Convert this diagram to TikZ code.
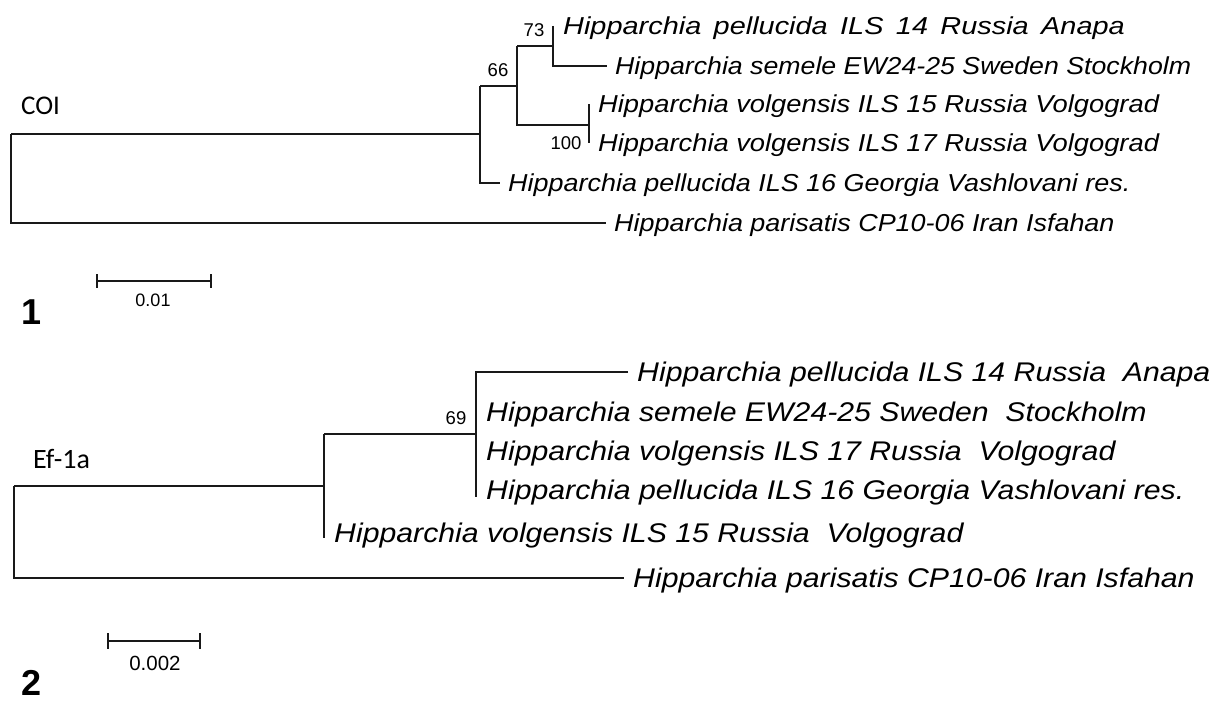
\documentclass[tikz,border=0pt]{standalone}
\usepackage{fontspec}
\usepackage{graphicx}
\setmainfont{Liberation Sans}
\newfontfamily\lblfont{Carlito}
\newcommand\taxA[2][1.1]{\scalebox{#1}[1]{\fontsize{24.5}{24.5}\selectfont\itshape #2}}
\newcommand\taxB[1]{\scalebox{1.12}[1]{\fontsize{27}{27}\selectfont\itshape #1}}
\newcommand\wsp{\ \hspace{0.15em}}
\begin{document}
\begin{tikzpicture}[x=1pt,y=-1pt,
  branch/.style={line width=2pt,line join=miter,draw=black!90},
  rootline/.style={line width=2.7pt,line join=miter,draw=black!90},
  leafA/.style={anchor=base west,inner sep=0pt,xshift=8pt,yshift=-8.8pt},
  leafB/.style={anchor=base west,inner sep=0pt,xshift=10pt,yshift=-9.7pt},
  boot/.style={anchor=base,inner sep=0pt,font=\fontsize{18.5}{18.5}\selectfont},
  genelbl/.style={anchor=base west,inner sep=0pt,font=\lblfont\fontsize{28}{28}\selectfont},
  panel/.style={anchor=base,inner sep=0pt,font=\bfseries\fontsize{36}{36}\selectfont},
  scalebar/.style={line width=2pt,draw=black!90}]
\fill[white] (0,0) rectangle (1212,701);
\useasboundingbox (0,0) rectangle (1212,701);

% ---------------- Tree 1 (COI) ----------------
\coordinate (R1t) at (11,134);  \coordinate (R1b) at (11,223);
\coordinate (A1m) at (480,134); \coordinate (A1t) at (480,86);  \coordinate (A1b) at (480,183);
\coordinate (B1m) at (517,86);  \coordinate (B1t) at (517,46);  \coordinate (B1b) at (517,125);
\coordinate (C1m) at (553,46);  \coordinate (C1t) at (553,26);  \coordinate (C1b) at (553,66);
\coordinate (D1m) at (589,125); \coordinate (D1t) at (589,104); \coordinate (D1b) at (589,143);
\coordinate (SEM1) at (607,66); \coordinate (P161) at (500,183); \coordinate (PAR1) at (606,223);

\draw[rootline] (R1t) -- (R1b) -- (PAR1);
\draw[branch] (R1t) -- (A1m);
\draw[branch] (A1t) -- (A1b) -- (P161);
\draw[branch] (A1t) -- (B1m);
\draw[branch] (B1t) -- (B1b) -- (D1m);
\draw[branch] (B1t) -- (C1m);
\draw[branch] (C1t) -- (C1b) -- (SEM1);
\draw[branch] (D1t) -- (D1b);

\node[leafA,xshift=2pt] (t1a) at (C1t) {\taxA[1.18]{Hipparchia\wsp pellucida\wsp ILS\wsp 14\wsp Russia\wsp Anapa}};
\node[leafA] (t1b) at (SEM1) {\taxA[1.09]{Hipparchia semele EW24-25 Sweden Stockholm}};
\node[leafA,xshift=1pt] (t1c) at (D1t) {\taxA[1.115]{Hipparchia volgensis ILS 15 Russia Volgograd}};
\node[leafA,xshift=1pt] (t1d) at (D1b) {\taxA[1.115]{Hipparchia volgensis ILS 17 Russia Volgograd}};
\node[leafA] (t1e) at (P161) {\taxA{Hipparchia pellucida ILS 16 Georgia Vashlovani res.}};
\node[leafA] (t1f) at (PAR1) {\taxA{Hipparchia parisatis CP10-06 Iran Isfahan}};

\node[boot] (b66) at (498,77) {66};
\node[boot] (b73) at (534,37) {73};
\node[boot] (b100) at (566,149) {100};
\node[genelbl,font=\lblfont\fontsize{27}{27}\selectfont] (coi) at (21,114) {COI};

\coordinate (s1a) at (97,281); \coordinate (s1b) at (211,281);
\draw[scalebar] (s1a) -- (s1b);
\draw[scalebar] ([yshift=7pt]s1a) -- ([yshift=-7pt]s1a);
\draw[scalebar] ([yshift=7pt]s1b) -- ([yshift=-7pt]s1b);
\node[anchor=base,inner sep=0pt,font=\fontsize{18}{18}\selectfont] (sl1) at (153,306) {0.01};
\node[panel] (p1) at (32,324) {1};

% ---------------- Tree 2 (Ef-1a) ----------------
\coordinate (R2t) at (14,486);  \coordinate (R2b) at (14,578);
\coordinate (A2m) at (324,486); \coordinate (A2t) at (324,434); \coordinate (A2b) at (324,538);
\coordinate (B2m) at (476,434); \coordinate (B2t) at (476,372); \coordinate (B2b) at (476,497);
\coordinate (P142) at (628,372);
\coordinate (SEM2) at (476,412); \coordinate (V172) at (476,451); \coordinate (P162) at (476,490);
\coordinate (V152) at (324,533); \coordinate (PAR2) at (624,578);

\draw[rootline] (R2t) -- (R2b) -- (PAR2);
\draw[branch] (R2t) -- (A2m);
\draw[branch] (A2t) -- (A2b);
\draw[branch] (A2t) -- (B2m);
\draw[branch] (P142) -- (B2t) -- (B2b);

\node[leafB,xshift=-1pt] (t2a) at (P142) {\taxB{Hipparchia pellucida ILS 14 Russia\ \ Anapa}};
\node[leafB] (t2b) at (SEM2) {\taxB{Hipparchia semele EW24-25 Sweden\ \ Stockholm}};
\node[leafB] (t2c) at (V172) {\taxB{Hipparchia volgensis ILS 17 Russia\ \ Volgograd}};
\node[leafB] (t2d) at (P162) {\taxB{Hipparchia pellucida ILS 16 Georgia Vashlovani res.}};
\node[leafB] (t2e) at (V152) {\taxB{Hipparchia volgensis ILS 15 Russia\ \ Volgograd}};
\node[leafB,xshift=-1pt] (t2f) at (PAR2) {\taxB{Hipparchia parisatis CP10-06 Iran Isfahan}};

\node[boot] (b69) at (456,424) {69};
\node[genelbl] (ef) at (33,468) {Ef-1a};

\coordinate (s2a) at (108,641); \coordinate (s2b) at (200,641);
\draw[scalebar] (s2a) -- (s2b);
\draw[scalebar] ([yshift=8pt]s2a) -- ([yshift=-8pt]s2a);
\draw[scalebar] ([yshift=8pt]s2b) -- ([yshift=-8pt]s2b);
\node[anchor=base,inner sep=0pt,font=\fontsize{20.5}{20.5}\selectfont] (sl2) at (155,670) {0.002};
\node[panel] (p2) at (32,695) {2};
\end{tikzpicture}
\end{document}
